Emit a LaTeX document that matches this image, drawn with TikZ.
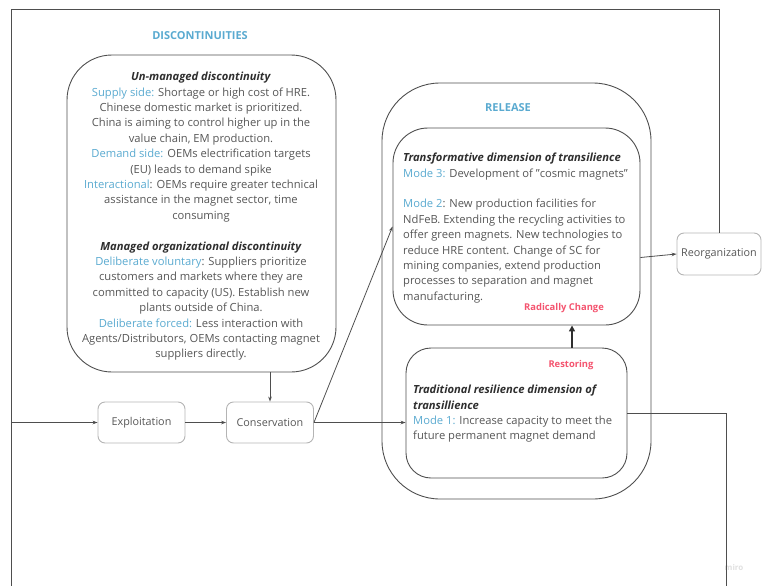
\documentclass[tikz,border=0pt]{standalone}
\usepackage{fontspec}
\setmainfont{Open Sans}
\usetikzlibrary{arrows.meta}

\definecolor{ink}{HTML}{565656}
\definecolor{headink}{HTML}{2E2E2E}
\definecolor{cueblue}{HTML}{5AAAD0}
\definecolor{alertpink}{HTML}{F4546F}
\definecolor{linegray}{HTML}{4E4E4E}
\definecolor{softgray}{HTML}{B4B4B4}

\newcommand{\kw}[1]{\textcolor{cueblue}{#1}}
\newcommand{\hd}[1]{\textcolor{headink}{\textbf{\textit{#1}}}}

\begin{document}
\begin{tikzpicture}[x=1pt,y=-1pt,
  frame/.style={draw=linegray, line width=0.9pt, rounded corners=#1, inner sep=0pt},
  frame/.default=30pt,
  stage/.style={draw=softgray, line width=0.9pt, rounded corners=7pt,
    minimum width=87pt, minimum height=41pt, inner sep=0pt, text=ink,
    font=\fontsize{10.8}{12}\selectfont},
  wire/.style={draw=linegray, line width=0.8pt},
  arr/.style={wire, -{Stealth[length=5pt,width=3.6pt]}},
  bigarr/.style={draw=headink, line width=2.2pt, -{Triangle[length=6pt,width=6pt]}},
  body/.style={text=ink, font=\fontsize{11.2}{15.4}\selectfont, inner sep=0pt},
  caption/.style={text=cueblue, font=\fontsize{11}{13}\selectfont\bfseries, inner sep=0pt},
  flag/.style={text=alertpink, font=\fontsize{9.4}{11}\selectfont\bfseries, inner sep=0pt}
]
\useasboundingbox (0,0) rectangle (762,586);

% ---- frames ----
\node[frame=45pt, minimum width=269pt, minimum height=317pt] (disc) at (201.5,213.5) {};
\node[frame=58pt, minimum width=269pt, minimum height=416pt] (release) at (516.5,291) {};
\node[frame=35pt, minimum width=247pt, minimum height=197pt] (trans) at (516.5,226.5) {};
\node[frame=25pt, minimum width=221pt, minimum height=130pt] (trad) at (516.5,413) {};

% ---- stages ----
\node[stage] (expl) at (141.5,422.5) {Exploitation};
\node[stage] (cons) at (270,422.5) {Conservation};
\node[stage, minimum width=84pt, minimum height=42pt] (reorg) at (719,254) {Reorganization};

% ---- captions ----
\node[caption] (disccap) at (200,36) {DISCONTINUITIES};
\node[caption] (relcap) at (508,108) {RELEASE};

% ---- texts ----
\node[body, align=center, anchor=north] (disctext) at (201,72) {%
\hd{Un-managed discontinuity}\\
\kw{Supply side:} Shortage or high cost of HRE.\\
Chinese domestic market is prioritized.\\
China is aiming to control higher up in the\\
value chain, EM production.\\
\kw{Demand side:} OEMs electrification targets\\
(EU) leads to demand spike\\
\kw{Interactional}: OEMs require greater technical\\
assistance in the magnet sector, time\\
consuming\\[15.4pt]
\hd{Managed organizational discontinuity}\\
\kw{Deliberate voluntary}: Suppliers prioritize\\
customers and markets where they are\\
committed to capacity (US). Establish new\\
plants outside of China.\\
\kw{Deliberate forced:} Less interaction with\\
Agents/Distributors, OEMs contacting magnet\\
suppliers directly.};

\node[body, align=left, anchor=north west] (transtext) at (403,153) {%
\hd{Transformative dimension of transilience}\\
\kw{Mode 3:} Development of "cosmic magnets"\\[15.4pt]
\kw{Mode 2}: New production facilities for\\
NdFeB. Extending the recycling activities to\\
offer green magnets. New technologies to\\
reduce HRE content. Change of SC for\\
mining companies, extend production\\
processes to separation and magnet\\
manufacturing.};

\node[body, align=left, anchor=north west] (tradtext) at (413,385) {%
\hd{Traditional resilience dimension of}\\
\hd{transillience}\\
\kw{Mode 1:} Increase capacity to meet the\\
future permanent magnet demand};

\node[flag] (radical) at (564,308) {Radically Change};
\node[flag] (restore) at (571,365) {Restoring};

\node[text=black!12, font=\fontsize{8}{9}\selectfont\bfseries, inner sep=0pt] (mark) at (734,567) {miro};

% ---- connectors ----
\coordinate (topleft) at (11,9);
\coordinate (botleft) at (11,586);
\coordinate (entry) at (11,422.5);
\coordinate (botright) at (726,586);

\draw[wire] (reorg.north) |- (topleft) -- (botleft);
\draw[arr] (entry) -- (expl);
\draw[arr] (expl) -- (cons);
\draw[arr] (disc.south -| cons.north) -- (cons.north);
\draw[arr] (cons.east) -- (cons.east -| trad.west);
\draw[arr] (cons.east) -- (trans.west);
\draw[arr] ([yshift=-31pt]trans.east) -- (reorg.west);
\draw[wire] (trad.east) -| (botright);
\draw[bigarr] ([xshift=55.5pt]trad.north) -- ([xshift=55.5pt]trans.south);
\end{tikzpicture}
\end{document}
